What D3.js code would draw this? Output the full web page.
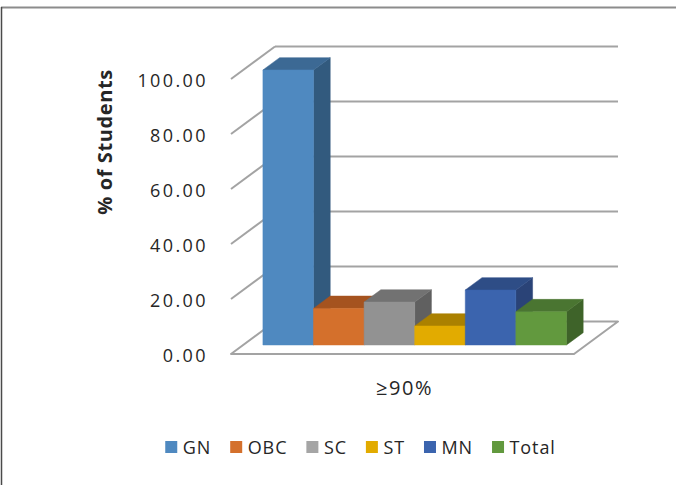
<!DOCTYPE html>
<html>
<head>
<meta charset="utf-8">
<script src="https://cdn.jsdelivr.net/npm/d3@7"></script>
<style>
  html, body { margin: 0; padding: 0; background: #fff; }
  svg { display: block; }
  text { font-family: "Open Sans", "Noto Sans", sans-serif; fill: #262626; }
</style>
</head>
<body>
<svg id="chart" width="676" height="485"></svg>
<script>
// ---- data ----
const categories = ["≥90%"];
const seriesNames = ["GN", "OBC", "SC", "ST", "MN", "Total"];
const seriesValues = [100, 13.3, 15.6, 6.9, 20, 12.1];
const tickValues = [0, 20, 40, 60, 80, 100];
const yTitle = "% of Students";

// ---- styles ----
const frontColors = ["#4f89c0", "#d4702c", "#929292", "#e2ab00", "#3b64ae", "#62993e"];
const sideColors  = ["#325a7e", "#8f4718", "#606060", "#946f00", "#2a4377", "#3e6329"];
const topColors   = ["#3c6994", "#a5531f", "#727272", "#ab8100", "#2e4d86", "#4a7531"];
const legendColors = ["#4f89c0", "#d4702c", "#a5a5a5", "#e2ab00", "#3b64ae", "#62993e"];

const svg = d3.select("#chart");

// frame
svg.append("line").attr("x1", 1).attr("x2", 676).attr("y1", 7.5).attr("y2", 7.5)
  .attr("stroke", "#8c8c8c").attr("stroke-width", 2);
svg.append("line").attr("x1", 1.5).attr("x2", 1.5).attr("y1", 7).attr("y2", 485)
  .attr("stroke", "#4a4a4a").attr("stroke-width", 1.5);

// ---- scales ----
const y = d3.scaleLinear().domain([0, 100]).range([354, 79]);
const x0 = d3.scaleBand().domain(categories).range([231, 574]).paddingInner(0).paddingOuter(0.065);
const x1 = d3.scaleBand().domain(seriesNames).range([0, x0.bandwidth()]).padding(0);
// depth scale: 0 = front plane, 1 = back wall
const depthX = d3.scaleLinear().domain([0, 1]).range([0, 44]);
const depthY = d3.scaleLinear().domain([0, 1]).range([0, -32.5]);
const P = (xf, v, z) => [xf + depthX(z), y(v) + depthY(z)];

const plotLeft = x0.range()[0], plotRight = x0.range()[1];
const gridColor = "#a3a3a3";

// back wall gridlines and left side diagonals
const grid = svg.append("g");
tickValues.forEach(v => {
  if (v > 0) {
    const a = P(plotLeft, v, 1), b = P(plotRight, v, 1), c = P(plotLeft, v, 0);
    grid.append("line").attr("x1", a[0]).attr("y1", a[1]).attr("x2", b[0]).attr("y2", b[1])
      .attr("stroke", gridColor).attr("stroke-width", 2);
    grid.append("line").attr("x1", c[0]).attr("y1", c[1]).attr("x2", a[0]).attr("y2", a[1])
      .attr("stroke", gridColor).attr("stroke-width", 2);
  }
});
// floor
const floorPts = [P(plotLeft, 0, 0), P(plotRight, 0, 0), P(plotRight, 0, 1), P(plotLeft, 0, 1)];
grid.append("polygon").attr("points", floorPts.map(p => p.join(",")).join(" "))
  .attr("fill", "#fff").attr("stroke", gridColor).attr("stroke-width", 2).attr("stroke-linejoin", "round");

// ---- bars ----
const zF = 0.277, zB = 0.657;
const bars = svg.append("g");
categories.forEach(cat => {
  seriesNames.forEach((s, i) => {
    const v = seriesValues[i];
    const xl = x0(cat) + x1(s), xr = xl + x1.bandwidth();
    const g = bars.append("g");
    const poly = (pts, fill) => g.append("polygon")
      .attr("points", pts.map(p => p.join(",")).join(" ")).attr("fill", fill)
      .attr("stroke", fill).attr("stroke-width", 0.5).attr("stroke-linejoin", "round");
    // side
    poly([P(xr, 0, zF), P(xr, 0, zB), P(xr, v, zB), P(xr, v, zF)], sideColors[i]);
    // top
    poly([P(xl, v, zF), P(xr, v, zF), P(xr, v, zB), P(xl, v, zB)], topColors[i]);
    // front
    poly([P(xl, 0, zF), P(xr, 0, zF), P(xr, v, zF), P(xl, v, zF)], frontColors[i]);
  });
});

// ---- axis labels ----
const fmt = d3.format(".2f");
const yAxis = d3.axisLeft(y).tickValues(tickValues).tickFormat(fmt).tickSize(0).tickPadding(0);
const ya = svg.append("g").attr("transform", "translate(208,2)").call(yAxis);
ya.select(".domain").remove();
ya.selectAll("text").attr("font-family", "Open Sans, sans-serif").attr("font-size", 18)
  .attr("letter-spacing", 2.4).attr("fill", "#262626");

svg.append("text").attr("transform", "translate(112,142) rotate(-90)")
  .attr("text-anchor", "middle").attr("font-size", 20).attr("font-weight", "bold")
  .attr("letter-spacing", 0.6).text(yTitle);

// category label
categories.forEach(cat => {
  svg.append("text").attr("x", x0(cat) + x0.bandwidth() / 2 + 2).attr("y", 395)
    .attr("text-anchor", "middle").attr("font-size", 20).attr("letter-spacing", 1.5).text(cat);
});

// ---- legend ----
const legend = svg.append("g");
const items = seriesNames.map((s, i) => {
  const g = legend.append("g");
  g.append("rect").attr("width", 12).attr("height", 12).attr("y", -6).attr("fill", legendColors[i]);
  const t = g.append("text").attr("x", 17.5).attr("y", 6.5).attr("font-size", 18).attr("letter-spacing", 0.9).text(s);
  return { g, w: 17.5 + t.node().getComputedTextLength() };
});
const gap = 19;
const totalW = d3.sum(items, d => d.w) + gap * (items.length - 1);
let lx = 360.5 - totalW / 2;
items.forEach(d => { d.g.attr("transform", `translate(${lx},447)`); lx += d.w + gap; });
</script>
</body>
</html>
